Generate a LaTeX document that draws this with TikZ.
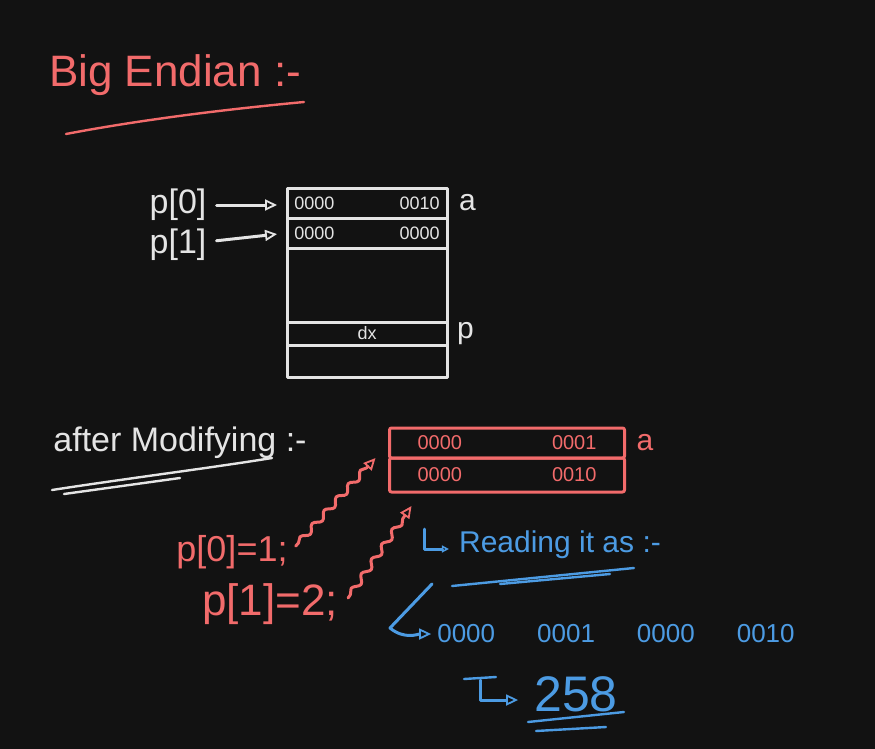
\documentclass[tikz,border=0pt]{standalone}
\usepackage{fontspec}
\setmainfont{Liberation Sans}
\usetikzlibrary{arrows.meta,positioning,decorations.pathmorphing,calc}
\definecolor{board}{HTML}{121212}
\definecolor{chalk}{HTML}{E4E4E4}
\definecolor{salmon}{HTML}{F26B6B}
\definecolor{azure}{HTML}{4C9BE3}
\newcommand{\fsz}[1]{\fontsize{#1}{#1}\selectfont}
\tikzset{
  >={Triangle[open,length=12pt,width=11pt,line width=1.8pt]},
  ink/.style={line width=3pt,line cap=round,line join=round},
  cell/.style={ink,draw=chalk,minimum width=160pt,inner sep=0pt,outer sep=0pt,text=chalk,font=\fsz{18}},
  redcell/.style={cell,draw=salmon,text=salmon,minimum width=235pt,font=\fsz{20}},
  chalktext/.style={text=chalk,inner sep=0pt},
  redtext/.style={text=salmon,inner sep=0pt},
  bluetext/.style={text=azure,inner sep=0pt},
  wire/.style={->,ink,draw=chalk,shorten <=10pt,shorten >=10pt},
  snakewire/.style={->,ink,draw=salmon,decorate,
    decoration={snake,amplitude=3pt,segment length=18pt,pre length=4pt,post length=12pt}},
  bluewire/.style={->,ink,draw=azure},
  scrawl/.style={ink,line width=2.4pt}
}
\begin{document}
\begin{tikzpicture}[x=1pt,y=-1pt,node distance=8pt]
  \fill[board] (0,0) rectangle (875,749);
  \node[redtext,font=\fsz{44}] (title) at (175,75) {Big Endian :-};
  \draw[scrawl,salmon] (66,134) .. controls (150,118) and (240,108) .. (304,102);
  \node[cell,minimum height=30pt] (w0) at (367,203) {0000\hspace{65pt}0010};
  \node[cell,minimum height=30pt,below=0pt of w0] (w1) {0000\hspace{65pt}0000};
  \node[cell,minimum height=74pt,below=0pt of w1] (w2) {};
  \node[cell,minimum height=23pt,below=0pt of w2] (w3) {dx};
  \node[cell,minimum height=32pt,below=0pt of w3] (w4) {};
  \node[chalktext,font=\fsz{30},right=12pt of w0] (wa) {a};
  \node[chalktext,font=\fsz{30},right=10pt of w3] (wp) {p};
  \node[chalktext,font=\fsz{34}] (p0) at (178,205) {p[0]};
  \node[chalktext,font=\fsz{34}] (p1) at (178,245) {p[1]};
  \draw[wire] (p0) -- (p0 -| w0.west); \draw[wire] (p1) -- (w1.west);
  \node[chalktext,font=\fsz{34}] (after) at (180,443) {after Modifying :-};
  \draw[scrawl,chalk] (52,490) .. controls (130,478) and (210,468) .. (272,458);
  \draw[scrawl,chalk] (64,494) -- (180,478);
  \node[redcell,rounded corners=2pt,minimum height=30pt] (r0) at (507,443) {0000\hspace{90pt}0001};
  \node[redcell,rounded corners=2pt,minimum height=34pt,below=0pt of r0] (r1) {0000\hspace{90pt}0010};
  \node[redtext,font=\fsz{30},right=12pt of r0] (ra) {a};
  \node[redtext,font=\fsz{36}] (s0) at (232,552) {p[0]=1;};
  \node[redtext,font=\fsz{44}] (s1) at (270,604) {p[1]=2;};
  \draw[snakewire] ([xshift=8pt,yshift=6pt]s0.east) -- ([xshift=-14pt]r0.south west);
  \draw[snakewire] ([xshift=10pt,yshift=6pt]s1.east) -- ([xshift=22pt,yshift=-14pt]r1.south west);
  \node[bluetext,font=\fsz{30}] (rd) at (560,545) {Reading it as :-};
  \draw[ink,draw=azure,-{Triangle[open,length=7pt,width=7pt,line width=1.5pt]}] ([xshift=-34pt,yshift=16pt]rd.west) |- ([xshift=-10pt,yshift=-4pt]rd.west);
  \draw[scrawl,azure] (452,586) -- (634,568); \draw[scrawl,azure] (500,584) -- (610,574);
  \node[bluetext,font=\fsz{26}] (bits) at (616,634) {0000\hspace{42pt}0001\hspace{42pt}0000\hspace{42pt}0010};
  \coordinate (bend) at (432,584);
  \draw[bluewire,shorten >=6pt] (bend) -- (390,628) to[out=-40,in=180] (bits.west);
  \node[bluetext,font=\fsz{50}] (val) at (576,694) {258};
  \coordinate (hook) at (480,680);
  \draw[scrawl,azure] (464,679) -- (496,677);
  \draw[bluewire] (hook) |- ([xshift=-16pt,yshift=-6pt]val.west);
  \draw[scrawl,azure] (528,722) -- (624,712); \draw[scrawl,azure] (536,731) -- (606,727);
\end{tikzpicture}
\end{document}
